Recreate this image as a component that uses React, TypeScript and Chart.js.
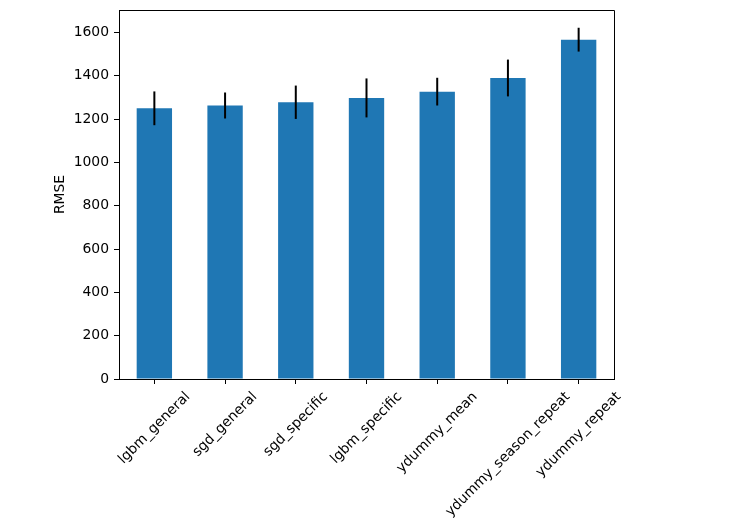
import React, { useRef, useEffect } from 'react';
import { Chart, registerables } from 'chart.js';

Chart.register(...registerables);

const models = [
    'lgbm_general',
    'sgd_general',
    'sgd_specific',
    'lgbm_specific',
    'ydummy_mean',
    'ydummy_season_repeat',
    'ydummy_repeat',
];
const rmse = [1250, 1263, 1278, 1298, 1327, 1390, 1567];
const rmseErr = [78, 60, 77, 90, 64, 85, 55];
const yTicks = [0, 200, 400, 600, 800, 1000, 1200, 1400, 1600];

const FONT = '13.9px "DejaVu Sans", sans-serif';

// error bars, frame, rotated x labels and y title (matplotlib look)
const extrasPlugin = {
    id: 'extras',
    afterDatasetsDraw(chart: any) {
        const { ctx, scales } = chart;
        const x = scales.x;
        const y = scales.y;
        ctx.save();
        ctx.strokeStyle = '#000';
        ctx.lineWidth = 2;
        rmse.forEach((v, i) => {
            const px = x.getPixelForValue(i);
            ctx.beginPath();
            ctx.moveTo(px, y.getPixelForValue(v - rmseErr[i]));
            ctx.lineTo(px, y.getPixelForValue(v + rmseErr[i]));
            ctx.stroke();
        });
        ctx.restore();
    },
    afterDraw(chart: any) {
        const { ctx, chartArea, scales } = chart;
        const x = scales.x;
        ctx.save();
        // top and right spines
        ctx.strokeStyle = '#000';
        ctx.lineWidth = 1;
        ctx.beginPath();
        ctx.moveTo(chartArea.left, chartArea.top + 0.5);
        ctx.lineTo(chartArea.right + 0.5, chartArea.top + 0.5);
        ctx.lineTo(chartArea.right + 0.5, chartArea.bottom);
        ctx.stroke();

        ctx.fillStyle = '#000';
        ctx.font = FONT;
        ctx.textAlign = 'center';
        ctx.textBaseline = 'middle';
        const h = 16;
        models.forEach((label, i) => {
            const w = ctx.measureText(label).width;
            const cx = x.getPixelForValue(i);
            const cy = chartArea.bottom + 10 + (w + h) * Math.SQRT1_2 / 2;
            ctx.save();
            ctx.translate(cx, cy);
            ctx.rotate(-Math.PI / 4);
            ctx.fillText(label, 0, 0);
            ctx.restore();
        });

        ctx.save();
        ctx.translate(60.5, (chartArea.top + chartArea.bottom) / 2);
        ctx.rotate(-Math.PI / 2);
        ctx.fillText('RMSE', 0, 0);
        ctx.restore();
        ctx.restore();
    },
};

const RmseBarChart = () => {
    const chartRef = useRef<HTMLCanvasElement>(null);
    const chartInstanceRef = useRef<Chart | null>(null);

    useEffect(() => {
        document.body.style.margin = '0';
        if (chartRef.current && !chartInstanceRef.current) {
            const context = chartRef.current.getContext('2d');
            if (context) {
                chartInstanceRef.current = new Chart(context, {
                    type: 'bar',
                    data: {
                        labels: models,
                        datasets: [
                            {
                                label: 'RMSE',
                                data: rmse,
                                backgroundColor: '#1f77b4',
                                barPercentage: 0.5,
                                categoryPercentage: 1,
                            },
                        ],
                    },
                    options: {
                        animation: false,
                        responsive: true,
                        maintainAspectRatio: false,
                        layout: {
                            padding: { left: 0, right: 125, top: 10, bottom: 0 },
                        },
                        scales: {
                            x: {
                                grid: {
                                    offset: false,
                                    drawOnChartArea: false,
                                    drawTicks: true,
                                    tickLength: 5,
                                    color: '#000',
                                },
                                border: { display: true, color: '#000', width: 1 },
                                ticks: { display: false },
                                afterFit: (scale: any) => {
                                    scale.height = 143;
                                    scale.paddingLeft = 0;
                                    scale.paddingRight = 0;
                                },
                            },
                            y: {
                                min: 0,
                                max: 1704,
                                grid: {
                                    drawOnChartArea: false,
                                    drawTicks: true,
                                    tickLength: 5,
                                    color: '#000',
                                },
                                border: { display: true, color: '#000', width: 1 },
                                ticks: {
                                    color: '#000',
                                    padding: 5,
                                    font: { family: '"DejaVu Sans", sans-serif', size: 13.9 },
                                    callback: (value: any) => String(value),
                                },
                                afterBuildTicks: (scale: any) => {
                                    scale.ticks = yTicks.map((v) => ({ value: v }));
                                },
                                afterFit: (scale: any) => {
                                    scale.width = 119;
                                    scale.paddingTop = 0;
                                    scale.paddingBottom = 0;
                                },
                            },
                        },
                        plugins: {
                            legend: { display: false },
                            tooltip: { enabled: false },
                        },
                    },
                    plugins: [extrasPlugin],
                });
            }
        }
        return () => {
            if (chartInstanceRef.current) {
                chartInstanceRef.current.destroy();
                chartInstanceRef.current = null;
            }
        };
    }, []);

    return (
        <div style={{ position: 'relative', width: 739, height: 522, background: '#fff' }}>
            <canvas ref={chartRef} />
        </div>
    );
};

export default function App() {
    return <RmseBarChart />;
}
